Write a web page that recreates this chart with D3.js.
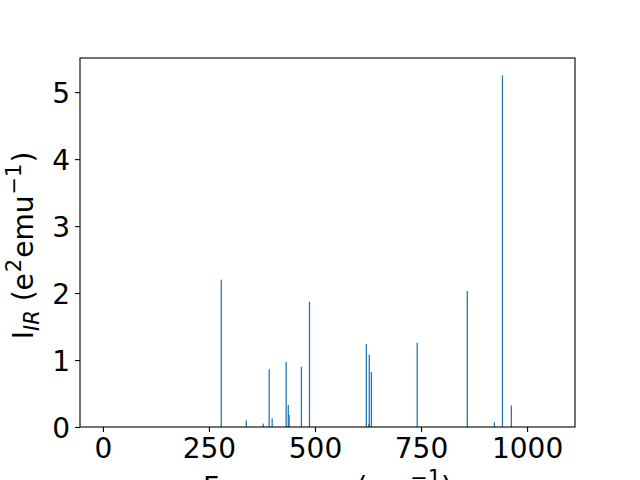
<!DOCTYPE html>
<html>
<head>
<meta charset="utf-8" />
<title>IR spectrum</title>
<script src="https://d3js.org/d3.v7.min.js"></script>
<style>
  body { margin: 0; background: #fff; }
  text { font-family: "DejaVu Sans", sans-serif; fill: #000; }
  .axis text { font-size: 28px; }
  .axis path, .axis line { stroke: #000; stroke-width: 1.1; }
</style>
</head>
<body>
<div id="chart"></div>
<script>
  // frequencies (cm^-1) and IR intensities
  var freqs = [279, 338, 378, 392, 399, 432, 437, 439, 468, 487,
               621, 627, 628, 633, 741, 859, 923, 942, 963];
  var intensities = [2.20, 0.10, 0.05, 0.86, 0.13, 0.97, 0.33, 0.18, 0.90, 1.87,
                     1.24, 0.05, 1.08, 0.82, 1.26, 2.03, 0.07, 5.25, 0.32];
  var xTicks = [0, 250, 500, 750, 1000];
  var yTicks = [0, 1, 2, 3, 4, 5];
  var barWidth = 3; // in cm^-1

  var margin = { top: 58, right: 65, bottom: 53, left: 80 },
    width = 640 - margin.left - margin.right,
    height = 480 - margin.top - margin.bottom;

  var svg = d3.select("#chart")
    .append("svg")
    .attr("width", 640)
    .attr("height", 480)
    .append("g")
    .attr("transform", "translate(" + margin.left + "," + margin.top + ")");

  var x = d3.scaleLinear().domain([-54, 1113]).range([0, width]);
  var y = d3.scaleLinear().domain([0, 5.51]).range([height, 0]);

  // bars
  svg.selectAll(".bar")
    .data(freqs)
    .enter()
    .append("rect")
    .attr("class", "bar")
    .attr("x", function (d) { return x(d - barWidth / 2); })
    .attr("width", function () { return x(barWidth) - x(0); })
    .attr("y", function (d, i) { return y(intensities[i]); })
    .attr("height", function (d, i) { return y(0) - y(intensities[i]); })
    .attr("fill", "#1f77b4");

  // axes
  var xaxis = d3.axisBottom(x).tickValues(xTicks).tickFormat(d3.format("d"))
    .tickSize(5).tickPadding(5).tickSizeOuter(0);
  var yaxis = d3.axisLeft(y).tickValues(yTicks).tickFormat(d3.format("d"))
    .tickSize(5).tickPadding(5).tickSizeOuter(0);

  var gx = svg.append("g")
    .attr("class", "axis")
    .attr("transform", "translate(0," + height + ")")
    .call(xaxis);
  gx.select(".domain").remove();
  gx.selectAll("text").attr("dy", "0.74em");

  var gy = svg.append("g")
    .attr("class", "axis")
    .call(yaxis);
  gy.select(".domain").remove();
  gy.selectAll("text").attr("dy", "0.36em");

  // frame
  svg.append("rect")
    .attr("width", width)
    .attr("height", height)
    .attr("fill", "none")
    .attr("stroke", "#000")
    .attr("stroke-width", 1.1);

  // x label (mostly cut off at the bottom, as in the original)
  var xl = svg.append("text")
    .attr("x", width / 2)
    .attr("y", height + 70)
    .attr("text-anchor", "middle")
    .style("font-size", "28px");
  xl.append("tspan").text("Frequency (cm");
  xl.append("tspan").attr("dy", -12).style("font-size", "21px").text("\u22121");
  xl.append("tspan").attr("dy", 12).text(")");

  // y label
  var yl = svg.append("text")
    .attr("transform", "translate(-47," + (height / 2 + 3) + ") rotate(-90)")
    .attr("text-anchor", "middle")
    .style("font-size", "28px");
  yl.append("tspan").text("I");
  yl.append("tspan").attr("dy", 6).style("font-size", "21px").style("font-style", "italic").text("IR");
  yl.append("tspan").attr("dy", -6).text(" (e");
  yl.append("tspan").attr("dx", 1).attr("dy", -12).style("font-size", "21px").text("2");
  yl.append("tspan").attr("dx", 1).attr("dy", 12).text("emu");
  yl.append("tspan").attr("dx", 1).attr("dy", -12).style("font-size", "21px").text("\u22121");
  yl.append("tspan").attr("dx", 1).attr("dy", 12).text(")");
</script>
</body>
</html>
